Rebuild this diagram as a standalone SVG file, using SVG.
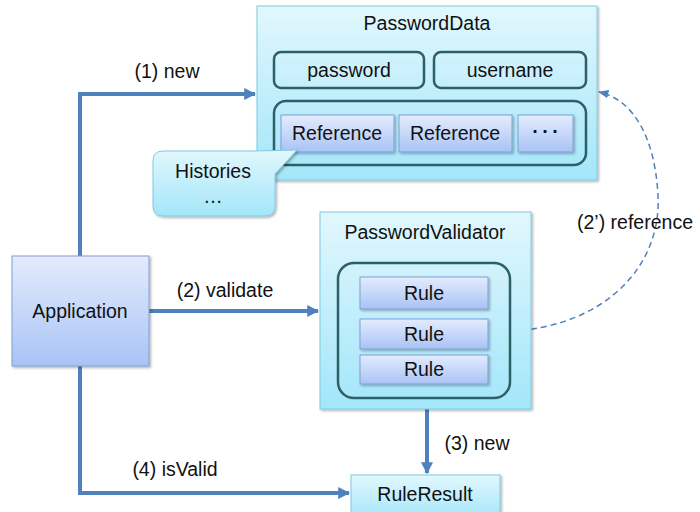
<svg xmlns="http://www.w3.org/2000/svg" width="700" height="512" viewBox="0 0 700 512">
<defs>
  <linearGradient id="gCyan" x1="0" y1="0" x2="0" y2="1">
    <stop offset="0" stop-color="#e2f7fd"/>
    <stop offset="1" stop-color="#a3e6fa"/>
  </linearGradient>
  <linearGradient id="gBlue" x1="0" y1="0" x2="0" y2="1">
    <stop offset="0" stop-color="#e4ecfd"/>
    <stop offset="1" stop-color="#a9c3f5"/>
  </linearGradient>
  <filter id="sh" x="-10%" y="-10%" width="130%" height="130%">
    <feDropShadow dx="1.5" dy="1.5" stdDeviation="1.2" flood-color="#000" flood-opacity="0.3"/>
  </filter>
  <marker id="arr" viewBox="0 0 10 10" refX="9" refY="5" markerWidth="3" markerHeight="3" orient="auto">
    <path d="M0,0 L10,5 L0,10 z" fill="#4f81bd"/>
  </marker>
  <marker id="arrThin" viewBox="0 0 10 10" refX="9" refY="5" markerWidth="7" markerHeight="7" orient="auto">
    <path d="M0,1 L10,5 L0,9 z" fill="#4f81bd"/>
  </marker>
</defs>
<style>
  text { font-family: "Liberation Sans", Arial, sans-serif; font-size: 19.5px; fill: #111; }
  .c { text-anchor: middle; }
  .outer { fill: url(#gCyan); stroke: #7ccbe0; stroke-width: 1; filter: url(#sh); }
  .inner { fill: none; stroke: #2d5f66; stroke-width: 2.5; }
  .item { fill: url(#gBlue); stroke: #7f9fd6; stroke-width: 1; filter: url(#sh); }
  .conn { fill: none; stroke: #4f81bd; stroke-width: 4; }
  .dash { fill: none; stroke: #4f81bd; stroke-width: 1.5; stroke-dasharray: 6 4; }
</style>

<g id="connectors">
  <path class="conn" d="M80,256 V94 H255" marker-end="url(#arr)"/>
  <path class="conn" d="M149,311 H318" marker-end="url(#arr)"/>
  <path class="conn" d="M80,366 V493 H349" marker-end="url(#arr)"/>
  <path class="conn" d="M427,409 V473" marker-end="url(#arr)"/>
  <path class="dash" d="M511,331 C600,327 662,270 658,195 C655,140 635,100 599,92" marker-end="url(#arrThin)"/>
  <text x="167" y="78" class="c">(1) new</text>
  <text x="225" y="297" class="c">(2) validate</text>
  <text x="635" y="229" class="c">(2’) reference</text>
  <text x="477" y="450" class="c">(3) new</text>
  <text x="175" y="476" class="c">(4) isValid</text>
</g>

<g id="PasswordData">
  <rect class="outer" x="257" y="6" width="340" height="174"/>
  <text x="427" y="30" class="c">PasswordData</text>
  <g id="password">
    <rect class="inner" x="274" y="52" width="150" height="36" rx="7"/>
    <text x="349" y="77" class="c">password</text>
  </g>
  <g id="username">
    <rect class="inner" x="434" y="52" width="152" height="36" rx="7"/>
    <text x="510" y="77" class="c">username</text>
  </g>
  <g id="Histories-container">
    <rect class="inner" x="274" y="101" width="312" height="64" rx="12"/>
    <g id="Reference1">
      <rect class="item" x="281" y="115" width="113" height="37"/>
      <text x="337" y="140" class="c">Reference</text>
    </g>
    <g id="Reference2">
      <rect class="item" x="399" y="115" width="113" height="37"/>
      <text x="455" y="140" class="c">Reference</text>
    </g>
    <g id="Ellipsis">
      <rect class="item" x="518" y="115" width="55" height="37"/>
      <text x="545" y="139" class="c">･･･</text>
    </g>
  </g>
</g>

<g id="Histories">
  <path class="outer" d="M163,151 H253 L297,150 L275,174 V206 Q275,216 265,216 H163 Q153,216 153,206 V161 Q153,151 163,151 Z"/>
  <text x="213" y="178" class="c">Histories</text>
  <text x="213" y="203" class="c">…</text>
</g>

<g id="Application">
  <rect class="item" x="12" y="256" width="137" height="110"/>
  <text x="80" y="318" class="c">Application</text>
</g>

<g id="PasswordValidator">
  <rect class="outer" x="320" y="212" width="211" height="197"/>
  <text x="425" y="239" class="c">PasswordValidator</text>
  <rect class="inner" x="338" y="263" width="172" height="135" rx="16"/>
  <g id="Rule1">
    <rect class="item" x="360" y="277" width="128" height="32"/>
    <text x="424" y="300" class="c">Rule</text>
  </g>
  <g id="Rule2">
    <rect class="item" x="360" y="319" width="128" height="30"/>
    <text x="424" y="341" class="c">Rule</text>
  </g>
  <g id="Rule3">
    <rect class="item" x="360" y="355" width="128" height="29"/>
    <text x="424" y="376" class="c">Rule</text>
  </g>
</g>

<g id="RuleResult">
  <rect class="outer" x="351" y="475" width="149" height="45"/>
  <text x="425" y="501" class="c">RuleResult</text>
</g>
</svg>
